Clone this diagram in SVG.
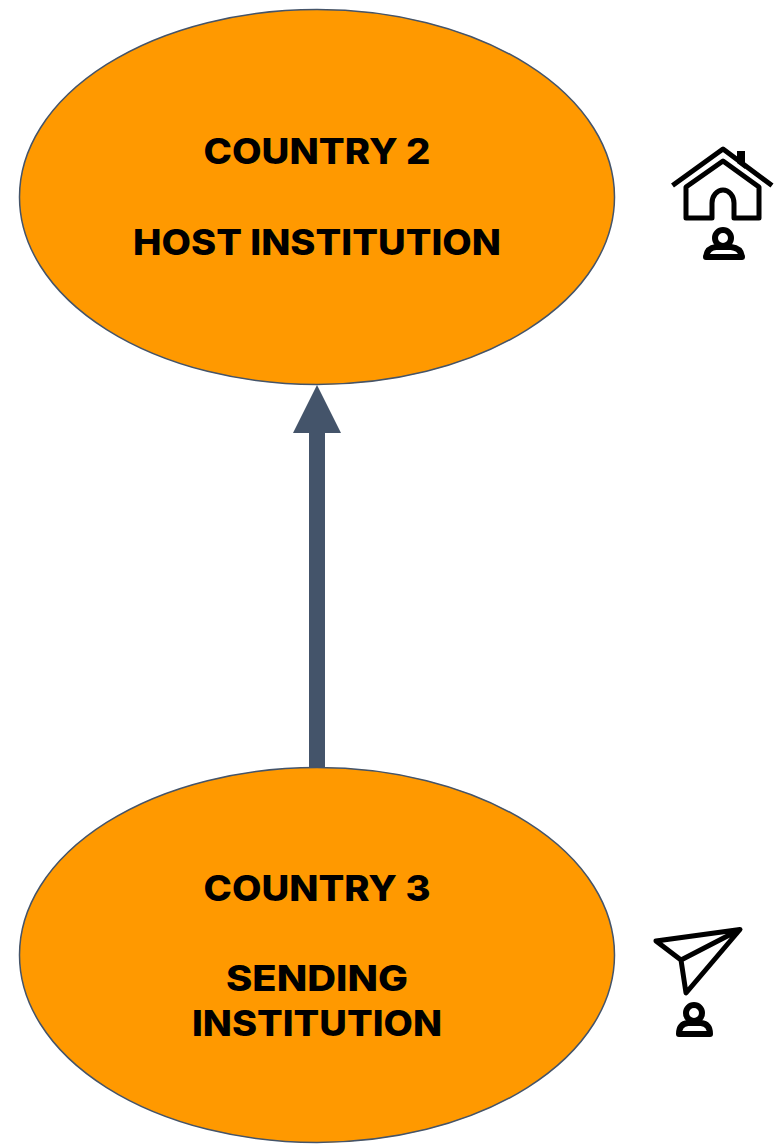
<svg xmlns="http://www.w3.org/2000/svg" width="783" height="1146" viewBox="0 0 783 1146">
<style>
.node{fill:#ff9900;stroke:#44546a;stroke-width:1.5}
.label{font-family:"Inter","Liberation Sans",sans-serif;font-weight:800;font-size:35px;fill:#000;text-anchor:middle}
.icon{fill:none;stroke:#000;stroke-width:5;stroke-linejoin:round}
.person{fill:none;stroke:#000;stroke-width:6;stroke-linejoin:round}
</style>
<rect width="783" height="1146" fill="#fff"/>
<g id="connectors">
<rect x="309" y="431" width="16" height="337" fill="#44546a"/>
<polygon points="317,385 341,433 293,433" fill="#44546a"/>
</g>
<g id="host">
<ellipse class="node" cx="317" cy="197" rx="297.500" ry="187.500"/>
<text class="label" x="317" y="164" textLength="227" lengthAdjust="spacingAndGlyphs">COUNTRY 2</text>
<text class="label" x="317" y="255" textLength="368" lengthAdjust="spacingAndGlyphs">HOST INSTITUTION</text>
</g>
<g id="sending">
<ellipse class="node" cx="317" cy="955" rx="297.500" ry="187.500"/>
<text class="label" x="317" y="901" textLength="227" lengthAdjust="spacingAndGlyphs">COUNTRY 3</text>
<text class="label" x="317" y="991" textLength="182" lengthAdjust="spacingAndGlyphs">SENDING</text>
<text class="label" x="317" y="1036" textLength="250" lengthAdjust="spacingAndGlyphs">INSTITUTION</text>
</g>
<g id="house-icon">
<path class="icon" d="M672.500,185.500 L723,149 L772,185.500"/>
<path d="M737,151 H745 V169 L737,163 Z" fill="#000"/>
<path class="icon" d="M686,187 L723,161 L759,187 V218 H734 V203 A11,13 0 0 0 712,203 V218 H686 Z"/>
<circle class="person" cx="723" cy="238" r="8"/>
<path class="person" d="M706,257 Q707,248 716,247 H731 Q741,248 742,257 Z"/>
</g>
<g id="plane-icon">
<path class="icon" d="M740,929.500 L656,941 L681,960 L686,993 Z M740,929.500 L681,960"/>
<circle class="person" cx="694" cy="1013" r="8"/>
<path class="person" d="M679,1034 Q679,1024 688,1023 H701 Q710,1024 710,1034 Z"/>
</g>
</svg>
